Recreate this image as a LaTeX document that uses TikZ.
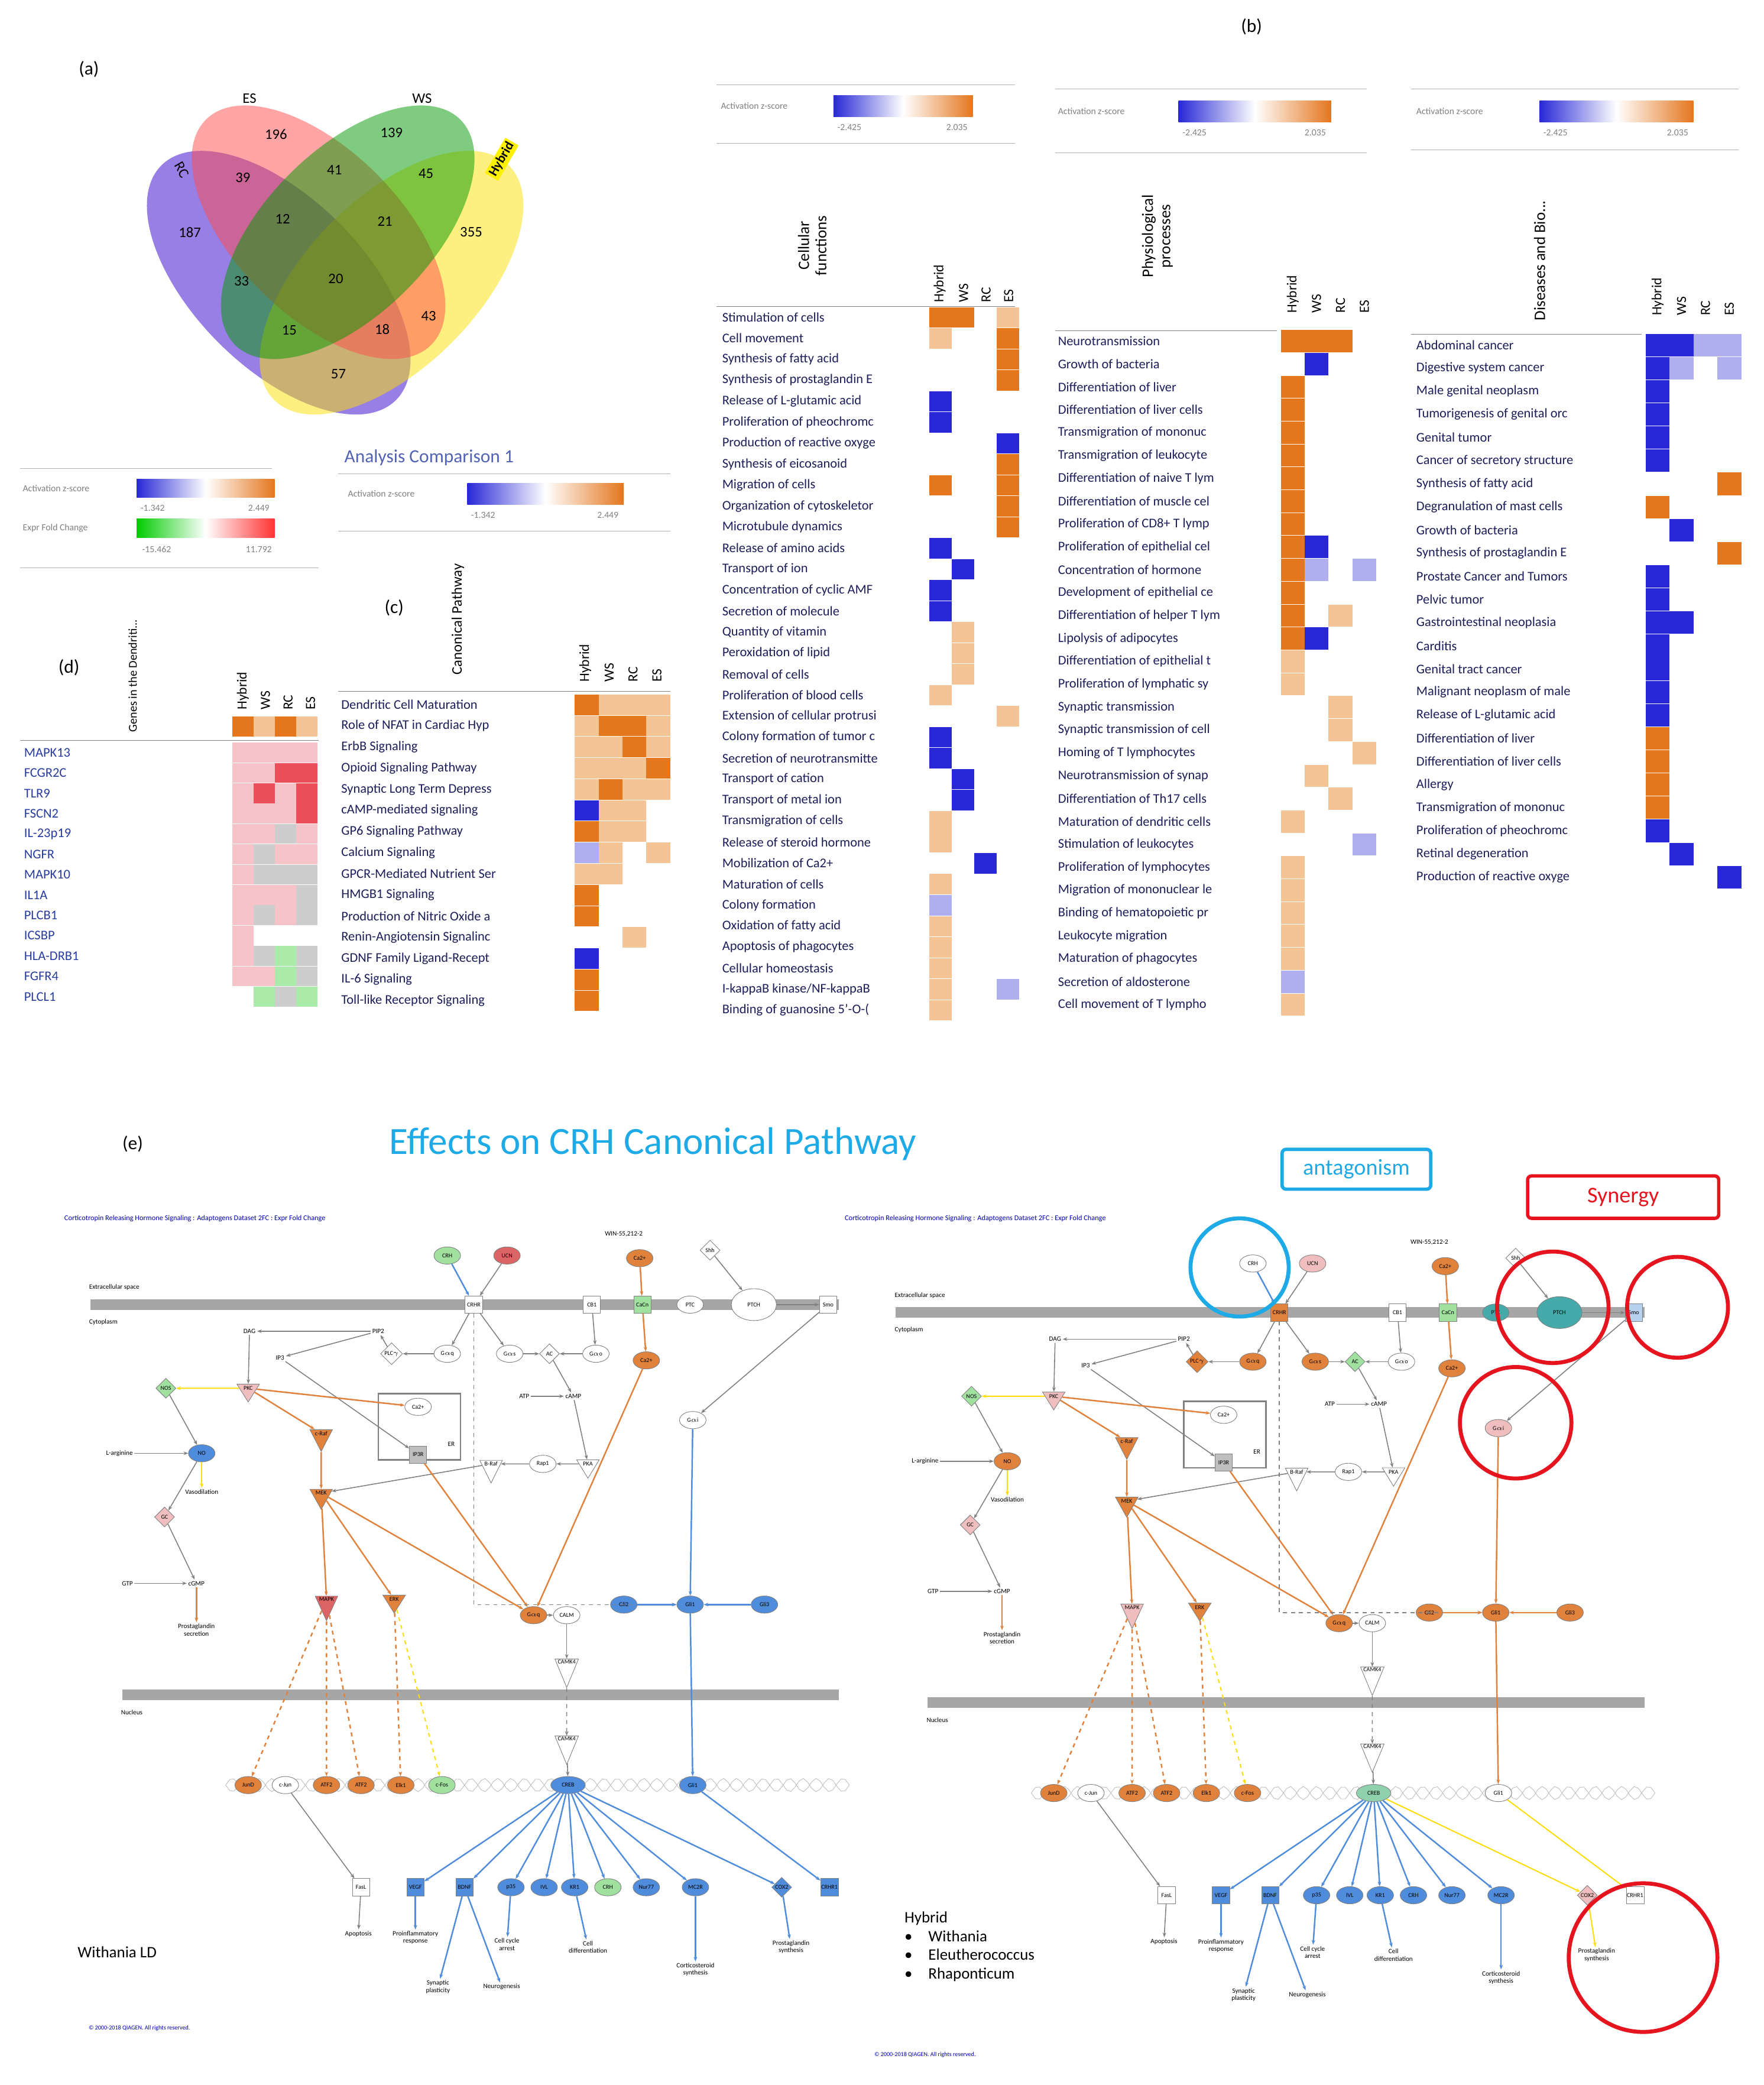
\documentclass[tikz,border=0pt]{standalone}
\usepackage{fontspec}
\setmainfont{Carlito}
\usetikzlibrary{shapes.geometric,arrows.meta}
\definecolor{hmO}{RGB}{228,118,30}
\definecolor{hmo}{RGB}{244,196,150}
\definecolor{hmB}{RGB}{40,40,215}
\definecolor{hmb}{RGB}{175,175,240}
\definecolor{hmn}{RGB}{255,255,255}
\definecolor{hmp}{RGB}{245,195,200}
\definecolor{hmr}{RGB}{235,80,90}
\definecolor{hmg}{RGB}{205,205,205}
\definecolor{hmG}{RGB}{170,235,170}
\definecolor{txt}{RGB}{30,30,90}
\definecolor{gene}{RGB}{40,60,160}
\definecolor{cO}{RGB}{225,130,60}
\definecolor{cB}{RGB}{80,140,220}
\definecolor{cG}{RGB}{160,225,160}
\definecolor{cR}{RGB}{220,100,100}
\definecolor{cP}{RGB}{240,190,190}
\definecolor{cT}{RGB}{70,170,170}
\definecolor{cyanT}{RGB}{30,170,230}
\definecolor{redT}{RGB}{230,20,30}
\tikzset{
 rowt/.style={font=\fontsize{10}{10}\selectfont,text=txt,inner sep=0pt,anchor=west},
 colt/.style={font=\fontsize{10.5}{10.5}\selectfont,rotate=90,anchor=west,inner sep=0pt},
 lg/.style={font=\fontsize{7}{7}\selectfont,text=gray,inner sep=0pt},
 vn/.style={font=\fontsize{11}{11}\selectfont,inner sep=1pt},
 pn/.style={draw=gray,font=\fontsize{4.5}{5}\selectfont,inner sep=0.5pt,fill=white},
 pc/.style={pn,ellipse,minimum width=20pt,minimum height=13pt},
 ps/.style={pn,rectangle,minimum width=13pt,minimum height=13pt},
 pd/.style={pn,diamond,minimum width=15pt,minimum height=15pt},
 pt/.style={pn,isosceles triangle,shape border rotate=-90,minimum width=17pt,minimum height=12pt,isosceles triangle stretches},
 ptx/.style={font=\fontsize{5}{5.5}\selectfont,inner sep=1pt,align=center},
 e/.style={-{Stealth[length=3.5pt]},gray,line width=0.7pt},
 eo/.style={-{Stealth[length=3.5pt]},cO,line width=1.1pt},
 eb/.style={-{Stealth[length=3.5pt]},cB,line width=1.1pt},
 ey/.style={-{Stealth[length=3.5pt]},yellow!80!orange,line width=0.9pt},
 ed/.style={dashed},
}
\newcommand\zlegend[6]{%
 \node[lg,anchor=west] at (#1,#2) {Activation z-score};
 \shade[left color=hmB,right color=hmO,middle color=white] (#3,#2-8) rectangle (#4,#2+8);
 \node[lg] at (#3+12,#2+16) {#5};
 \node[lg] at (#4-12,#2+16) {#6};}
\newcommand\pathway[1]{%
 \fill[gray!70] (68,979) rectangle (632,987);
 \fill[gray!70] (92,1273) rectangle (632,1281);
 \node[ptx,anchor=west] (#1ext) at (66,970) {Extracellular space};
 \node[ptx,anchor=west] (#1cyt) at (66,996) {Cytoplasm};
 \node[ptx,anchor=west] (#1nuc) at (90,1290) {Nucleus};
 \draw[gray!50] plot[domain=170:640,samples=150] (\x,{1345+5*sin(\x*18)});
 \draw[gray!50] plot[domain=170:640,samples=150] (\x,{1345-5*sin(\x*18)});
 \draw[gray,line width=1.2pt] (285,1050) rectangle (347,1100);
 \node[ptx] (#1er) at (340,1088) {ER};
 \node[pc,crhS] (#1crh) at (337,946) {CRH};
 \node[pc,ucnS] (#1ucn) at (382,946) {UCN};
 \node[ps,crhrS] (#1crhr) at (357,983) {CRHR};
 \node[ptx] (#1win) at (470,930) {WIN-55,212-2};
 \node[ps] (#1cb1) at (446,983) {CB1};
 \node[pc,fill=cO] (#1cae) at (482,948) {Ca2+};
 \node[pd] (#1shh) at (535,942) {Shh};
 \node[ps,fill=cG] (#1cacn) at (484,983) {CaCn};
 \node[pc,ptchS] (#1ptc) at (520,983) {PTC};
 \node[pc,ptchS,minimum width=34pt,minimum height=24pt] (#1ptch) at (568,983) {PTCH};
 \node[ps,smoS] (#1smo) at (624,983) {Smo};
 \node[ptx] (#1dag) at (188,1003) {DAG};
 \node[ptx] (#1pip2) at (285,1003) {PIP2};
 \node[ptx] (#1ip3) at (211,1023) {IP3};
 \node[pd,gqS] (#1plc) at (295,1020) {PLC$\gamma$};
 \node[pc,gqS] (#1gaq) at (337,1020) {G$\alpha$q};
 \node[pc,gqS] (#1gas) at (384,1020) {G$\alpha$s};
 \node[pd,acS] (#1ac) at (414,1020) {AC};
 \node[pc] (#1gao) at (449,1020) {G$\alpha$o};
 \node[pc,fill=cO] (#1cai) at (487,1025) {Ca2+};
 \node[pd,fill=cG] (#1nos) at (125,1046) {NOS};
 \node[pt,fill=cP] (#1pkc) at (187,1046) {PKC};
 \node[pt,fill=cO] (#1craf) at (242,1080) {c-Raf};
 \node[pc] (#1caer) at (315,1060) {Ca2+};
 \node[ps,fill=gray!50] (#1ip3r) at (315,1096) {IP3R};
 \node[ptx] (#1atp) at (395,1052) {ATP};
 \node[ptx] (#1camp) at (432,1052) {cAMP};
 \node[pc,giaS] (#1gai) at (522,1070) {G$\alpha$i};
 \node[ptx] (#1larg) at (90,1095) {L-arginine};
 \node[pc,noS] (#1no) at (152,1095) {NO};
 \node[ptx] (#1vaso) at (152,1124) {Vasodilation};
 \node[pd,fill=cP] (#1gc) at (124,1143) {GC};
 \node[pt,fill=cO] (#1mek) at (242,1125) {MEK};
 \node[pt] (#1braf) at (370,1103) {B-Raf};
 \node[pc] (#1rap1) at (409,1103) {Rap1};
 \node[pt] (#1pka) at (443,1103) {PKA};
 \node[ptx] (#1gtp) at (96,1193) {GTP};
 \node[ptx] (#1cgmp) at (148,1193) {cGMP};
 \node[ptx] (#1pg) at (148,1228) {Prostaglandin\\secretion};
 \node[pt,mapkS] (#1mapk) at (246,1205) {MAPK};
 \node[pt,fill=cO] (#1erk) at (297,1205) {ERK};
 \node[pc,fill=cO] (#1gq2) at (402,1217) {G$\alpha$q};
 \node[pc] (#1calm) at (427,1217) {CALM};
 \node[pc,giS] (#1gi2) at (470,1209) {Gli2};
 \node[pc,giS] (#1gi1) at (520,1209) {Gli1};
 \node[pc,giS] (#1gi3) at (576,1209) {Gli3};
 \node[pt] (#1camka) at (427,1252) {CAMK4};
 \node[pt] (#1camkb) at (427,1310) {CAMK4};
 \node[pc,fill=cO] (#1jund) at (187,1345) {JunD};
 \node[pc] (#1cjun) at (215,1345) {c-Jun};
 \node[pc,fill=cO] (#1atf) at (246,1345) {ATF2};
 \node[pc,fill=cO] (#1atfb) at (272,1345) {ATF2};
 \node[pc,fill=cO] (#1elk) at (302,1345) {Elk1};
 \node[pc,cfosS] (#1cfos) at (333,1345) {c-Fos};
 \node[pc,crebS,minimum width=26pt] (#1creb) at (428,1345) {CREB};
 \node[pc,gliS] (#1gli) at (522,1345) {Gli1};
 \node[ps] (#1fasl) at (272,1422) {FasL};
 \node[ps,tgtS] (#1vegf) at (313,1422) {VEGF};
 \node[ps,tgtS] (#1bdnf) at (350,1422) {BDNF};
 \node[pc,tgtS] (#1p35) at (385,1422) {p35};
 \node[pc,tgtS] (#1ivl) at (410,1422) {IVL};
 \node[pc,tgtS] (#1kr1) at (433,1422) {KR1};
 \node[pc,crh2S] (#1crh2) at (458,1422) {CRH};
 \node[pc,tgtS] (#1nur) at (487,1422) {Nur77};
 \node[pc,tgtS] (#1mc2r) at (524,1422) {MC2R};
 \node[pd,cox2S] (#1cox2) at (589,1422) {COX2};
 \node[ps,crhr1S] (#1crhr1) at (625,1422) {CRHR1};
 \node[ptx] (#1apo) at (270,1457) {Apoptosis};
 \node[ptx] (#1proi) at (313,1460) {Proinflammatory\\response};
 \node[ptx] (#1syn) at (330,1497) {Synaptic\\plasticity};
 \node[ptx] (#1neu) at (378,1497) {Neurogenesis};
 \node[ptx] (#1cca) at (382,1465) {Cell cycle\\arrest};
 \node[ptx] (#1cdiff) at (443,1467) {Cell\\differentiation};
 \node[ptx] (#1cort) at (524,1484) {Corticosteroid\\synthesis};
 \node[ptx] (#1pgs) at (596,1467) {Prostaglandin\\synthesis};
 \draw[eb] (#1crh) -- (#1crhr);
 \draw[e] (#1ucn) -- (#1crhr);
 \draw[e] (#1crhr) -- (#1gaq);
 \draw[e] (#1crhr) -- (#1gas);
 \draw[e] (#1gaq) -- (#1plc);
 \draw[e] (#1plc) -- (#1pip2);
 \draw[e] (#1pip2) -- (#1dag);
 \draw[e] (#1pip2) -- (#1ip3);
 \draw[e] (#1dag) -- (#1pkc);
 \draw[e] (#1gas) -- (#1ac);
 \draw[e] (#1gao) -- (#1ac);
 \draw[e] (#1cb1) -- (#1gao);
 \draw[e] (#1ac) -- (#1camp);
 \draw[e] (#1atp) -- (#1camp);
 \draw[e] (#1camp) -- (#1pka);
 \draw[e] (#1pka) -- (#1rap1);
 \draw[e] (#1rap1) -- (#1braf);
 \draw[e] (#1braf) -- (#1mek);
 \draw[ey] (#1pkc) -- (#1nos);
 \draw[e] (#1nos) -- (#1no);
 \draw[e] (#1larg) -- (#1no);
 \draw[ey] (#1no) -- (#1vaso);
 \draw[e] (#1no) -- (#1gc);
 \draw[e] (#1gc) -- (#1cgmp);
 \draw[e] (#1gtp) -- (#1cgmp);
 \draw[eo] (#1cgmp) -- (#1pg);
 \draw[eo] (#1pkc) -- (#1craf);
 \draw[eo] (#1craf) -- (#1mek);
 \draw[eo] (#1mek) -- (#1mapk);
 \draw[eo] (#1mek) -- (#1erk);
 \draw[eo] (#1mek) -- (#1gq2);
 \draw[eo] (#1ip3r) -- (#1gq2);
 \draw[e] (#1ip3) -- (#1ip3r);
 \draw[eo] (#1cae) -- (#1cacn);
 \draw[eo] (#1cacn) -- (#1cai);
 \draw[eo] (#1cai) -- (#1gq2);
 \draw[eo] (#1pkc) -- (#1caer);
 \draw[eo,ed] (#1mapk) -- (#1jund);
 \draw[eo,ed] (#1mapk) -- (#1atf);
 \draw[eo,ed] (#1mapk) -- (#1atfb);
 \draw[eo,ed] (#1erk) -- (#1elk);
 \draw[ey,ed] (#1erk) -- (#1cfos);
 \draw[e] (#1gq2) -- (#1calm);
 \draw[e] (#1calm) -- (#1camka);
 \draw[e,ed] (#1camka) -- (#1camkb);
 \draw[e] (#1camkb) -- (#1creb);
 \draw[e] (#1shh) -- (#1ptch);
 \draw[e] (#1ptch) -- (#1smo);
 \draw[e] (#1smo) -- (#1gai);
 \draw[e,ed] (#1crhr) |- (#1gi1);
 \draw[giE] (#1gai) -- (#1gi1);
 \draw[giE] (#1gi2) -- (#1gi1);
 \draw[giE] (#1gi3) -- (#1gi1);
 \draw[giE] (#1gi1) -- (#1gli);
 \draw[e] (#1cjun) -- (#1fasl);
 \draw[e] (#1fasl) -- (#1apo);
 \draw[eb] (#1creb) -- (#1vegf);
 \draw[eb] (#1creb) -- (#1bdnf);
 \draw[eb] (#1creb) -- (#1p35);
 \draw[eb] (#1creb) -- (#1ivl);
 \draw[eb] (#1creb) -- (#1kr1);
 \draw[eb] (#1creb) -- (#1crh2);
 \draw[eb] (#1creb) -- (#1nur);
 \draw[eb] (#1creb) -- (#1mc2r);
 \draw[cxE] (#1creb) -- (#1cox2);
 \draw[cxE] (#1gli) -- (#1crhr1);
 \draw[eb] (#1vegf) -- (#1proi);
 \draw[eb] (#1bdnf) -- (#1syn);
 \draw[eb] (#1bdnf) -- (#1neu);
 \draw[eb] (#1p35) -- (#1cca);
 \draw[eb] (#1kr1) -- (#1cdiff);
 \draw[eb] (#1mc2r) -- (#1cort);
 \draw[cxE] (#1cox2) -- (#1pgs);
}
\begin{document}
\begin{tikzpicture}[x=1pt,y=-1pt]
\useasboundingbox[fill=white] (0,0) rectangle (1329,1571);
% ---------- (a) Venn
\node[font=\fontsize{14}{14}\selectfont] (la) at (67,52) {(a)};
\begin{scope}[fill opacity=0.5]
\fill[blue!60!violet] (210,213) ellipse[x radius=125,y radius=64,rotate=-45];
\fill[yellow!85!orange] (295,213) ellipse[x radius=125,y radius=64,rotate=45];
\fill[red!70] (240,175) ellipse[x radius=120,y radius=62,rotate=-45];
\fill[green!60!black] (262,175) ellipse[x radius=120,y radius=62,rotate=45];
\end{scope}
\node[vn,rotate=-60] (vrc) at (137,128) {RC};
\node[vn] (ves) at (188,74) {ES};
\node[vn] (vws) at (318,74) {WS};
\node[fill=yellow,rotate=60,inner sep=1.5pt,font=\bfseries\fontsize{10}{10}\selectfont] (vhy) at (378,120) {Hybrid};
\foreach \n/\x/\y [count=\i] in {196/208/101,139/295/100,39/183/134,41/252/128,45/321/131,12/213/165,21/290/167,187/143/175,355/355/175,33/182/212,20/253/210,43/323/238,15/218/249,18/288/248,57/255/282}
 \node[vn] (vnum\i) at (\x,\y) {\n};
% ---------- (b)
\node[font=\fontsize{14}{14}\selectfont] (lb) at (943,20) {(b)};
\foreach \xa/\xb/\ya/\yb in {540/765/64/108,795/1030/67/115,1063/1310/67/113}{
 \draw[gray!60] (\xa,\ya) -- (\xb,\ya); \draw[gray!60] (\xa,\yb) -- (\xb,\yb);}
\zlegend{543}{80}{628}{733}{-2.425}{2.035}
\zlegend{797}{84}{888}{1003}{-2.425}{2.035}
\zlegend{1067}{84}{1160}{1276}{-2.425}{2.035}
\node[rotate=90,align=center,font=\fontsize{12}{13}\selectfont] (t1) at (612,185) {Cellular\\functions};
\node[rotate=90,align=center,font=\fontsize{12}{13}\selectfont] (t2) at (872,178) {Physiological\\processes};
\node[rotate=90,anchor=west,font=\fontsize{12}{13}\selectfont] (t3) at (1160,245) {Diseases and Bio...};
\foreach \x/\n in {708/Hybrid,726/WS,743/RC,760/ES}\node[colt] (hb1\n) at (\x,228) {\n};
\foreach \x/\n in {974/Hybrid,992/WS,1010/RC,1028/ES}\node[colt] (hb2\n) at (\x,236) {\n};
\foreach \x/\n in {1249/Hybrid,1267/WS,1285/RC,1303/ES}\node[colt] (hb3\n) at (\x,238) {\n};
\draw[gray] (540,231) -- (765,231);
\draw[gray] (795,249) -- (1030,249);
\draw[gray] (1063,252) -- (1310,252);
\foreach \t/\a/\b/\c/\d [count=\i from 0] in {
Stimulation of cells/O/O/n/o, Cell movement/o/n/n/O, Synthesis of fatty acid/n/n/n/O, Synthesis of prostaglandin E/n/n/n/O, Release of L-glutamic acid/B/n/n/n, Proliferation of pheochromc/B/n/n/n, Production of reactive oxyge/n/n/n/B, Synthesis of eicosanoid/n/n/n/O, Migration of cells/O/n/n/O, Organization of cytoskeletor/n/n/n/O, Microtubule dynamics/n/n/n/O, Release of amino acids/B/n/n/n, Transport of ion/n/B/n/n, Concentration of cyclic AMF/B/n/n/n, Secretion of molecule/B/n/n/n, Quantity of vitamin/n/o/n/n, Peroxidation of lipid/n/o/n/n, Removal of cells/n/o/n/n, Proliferation of blood cells/o/n/n/n, Extension of cellular protrusi/n/n/n/o, Colony formation of tumor c/B/n/n/n, Secretion of neurotransmitte/B/n/n/n, Transport of cation/n/B/n/n, Transport of metal ion/n/B/n/n, Transmigration of cells/o/n/n/n, Release of steroid hormone/o/n/n/n, Mobilization of Ca2+/n/n/B/n, Maturation of cells/o/n/n/n, Colony formation/b/n/n/n, Oxidation of fatty acid/o/n/n/n, Apoptosis of phagocytes/o/n/n/n, Cellular homeostasis/o/n/n/n, {I-kappaB kinase/NF-kappaB}/o/n/n/b, Binding of guanosine 5'-O-(/o/n/n/n}{
 \pgfmathsetmacro\yy{239+\i*15.82}
 \fill[hm\a] (700,\yy-7.6) rectangle ++(17,15.4);
 \fill[hm\b] (717,\yy-7.6) rectangle ++(17,15.4);
 \fill[hm\c] (734,\yy-7.6) rectangle ++(17,15.4);
 \fill[hm\d] (751,\yy-7.6) rectangle ++(17,15.4);
 \fill[white] (697,\yy-7.6) rectangle (700,\yy+8);
 \node[rowt] (ba\i) at (544,\yy) {\t};
}
\foreach \t/\a/\b/\c/\d [count=\i from 0] in {
Neurotransmission/O/O/O/n, Growth of bacteria/n/B/n/n, Differentiation of liver/O/n/n/n, Differentiation of liver cells/O/n/n/n, Transmigration of mononuc/O/n/n/n, Transmigration of leukocyte/O/n/n/n, Differentiation of naive T lym/O/n/n/n, Differentiation of muscle cel/O/n/n/n, Proliferation of CD8+ T lymp/O/n/n/n, Proliferation of epithelial cel/O/B/n/n, Concentration of hormone/O/b/n/b, Development of epithelial ce/O/n/n/n, Differentiation of helper T lym/O/n/o/n, Lipolysis of adipocytes/O/B/n/n, Differentiation of epithelial t/o/n/n/n, Proliferation of lymphatic sy/o/n/n/n, Synaptic transmission/n/n/o/n, Synaptic transmission of cell/n/n/o/n, Homing of T lymphocytes/n/n/n/o, Neurotransmission of synap/n/o/n/n, Differentiation of Th17 cells/n/n/o/n, Maturation of dendritic cells/o/n/n/n, Stimulation of leukocytes/n/n/n/b, Proliferation of lymphocytes/o/n/n/n, Migration of mononuclear le/o/n/n/n, Binding of hematopoietic pr/o/n/n/n, Leukocyte migration/o/n/n/n, Maturation of phagocytes/o/n/n/n, Secretion of aldosterone/b/n/n/n, Cell movement of T lympho/o/n/n/n}{
 \pgfmathsetmacro\yy{257+\i*17.24}
 \fill[hm\a] (965,\yy-8.4) rectangle ++(18,16.8);
 \fill[hm\b] (983,\yy-8.4) rectangle ++(18,16.8);
 \fill[hm\c] (1001,\yy-8.4) rectangle ++(18,16.8);
 \fill[hm\d] (1019,\yy-8.4) rectangle ++(18,16.8);
 \fill[white] (962,\yy-8.4) rectangle (965,\yy+8.6);
 \node[rowt] (bb\i) at (797,\yy) {\t};
}
\foreach \t/\a/\b/\c/\d [count=\i from 0] in {
Abdominal cancer/B/B/b/b, Digestive system cancer/B/b/n/b, Male genital neoplasm/B/n/n/n, Tumorigenesis of genital orc/B/n/n/n, Genital tumor/B/n/n/n, Cancer of secretory structure/B/n/n/n, Synthesis of fatty acid/n/n/n/O, Degranulation of mast cells/O/n/n/n, Growth of bacteria/n/B/n/n, Synthesis of prostaglandin E/n/n/n/O, Prostate Cancer and Tumors/B/n/n/n, Pelvic tumor/B/n/n/n, Gastrointestinal neoplasia/B/B/n/n, Carditis/B/n/n/n, Genital tract cancer/B/n/n/n, Malignant neoplasm of male/B/n/n/n, Release of L-glutamic acid/B/n/n/n, Differentiation of liver/O/n/n/n, Differentiation of liver cells/O/n/n/n, Allergy/O/n/n/n, Transmigration of mononuc/O/n/n/n, Proliferation of pheochromc/B/n/n/n, Retinal degeneration/n/B/n/n, Production of reactive oxyge/n/n/n/B}{
 \pgfmathsetmacro\yy{260+\i*17.43}
 \fill[hm\a] (1240,\yy-8.5) rectangle ++(18,17);
 \fill[hm\b] (1258,\yy-8.5) rectangle ++(18,17);
 \fill[hm\c] (1276,\yy-8.5) rectangle ++(18,17);
 \fill[hm\d] (1294,\yy-8.5) rectangle ++(18,17);
 \fill[white] (1237,\yy-8.5) rectangle (1240,\yy+8.5);
 \node[rowt] (bc\i) at (1067,\yy) {\t};
}
% ---------- (c)
\node[text=gene!80,font=\fontsize{14}{14}\selectfont,anchor=west] (acomp) at (256,345) {Analysis Comparison 1};
\draw[gray!60] (255,357) -- (505,357);
\draw[gray!60] (255,400) -- (505,400);
\zlegend{262}{372}{352}{470}{-1.342}{2.449}
\node[rotate=90,anchor=west,font=\fontsize{11}{11}\selectfont] (tcp) at (345,512) {Canonical Pathway};
\node[font=\fontsize{14}{14}\selectfont] (lc) at (297,458) {(c)};
\foreach \x/\n in {441/Hybrid,459/WS,477/RC,495/ES}\node[colt] (hc\n) at (\x,514) {\n};
\draw[gray] (255,521) -- (505,521);
\foreach \t/\a/\b/\c/\d [count=\i from 0] in {
Dendritic Cell Maturation/O/o/o/o, Role of NFAT in Cardiac Hyp/o/O/O/o, ErbB Signaling/o/o/O/o, Opioid Signaling Pathway/o/o/o/O, Synaptic Long Term Depress/o/O/o/o, cAMP-mediated signaling/B/o/o/n, GP6 Signaling Pathway/O/o/o/n, Calcium Signaling/b/o/n/o, GPCR-Mediated Nutrient Ser/o/o/n/n, HMGB1 Signaling/O/n/n/n, Production of Nitric Oxide a/O/n/n/n, Renin-Angiotensin Signalinc/n/n/o/n, GDNF Family Ligand-Recept/B/n/n/n, IL-6 Signaling/O/n/n/n, Toll-like Receptor Signaling/O/n/n/n}{
 \pgfmathsetmacro\yy{531+\i*15.93}
 \fill[hm\a] (433,\yy-7.7) rectangle ++(18,15.5);
 \fill[hm\b] (451,\yy-7.7) rectangle ++(18,15.5);
 \fill[hm\c] (469,\yy-7.7) rectangle ++(18,15.5);
 \fill[hm\d] (487,\yy-7.7) rectangle ++(18,15.5);
 \fill[white] (430,\yy-7.7) rectangle (433,\yy+8);
 \node[rowt,text=txt] (cc\i) at (257,\yy) {\t};
}
% ---------- (d)
\draw[gray!60] (15,428) -- (240,428);
\draw[gray!60] (15,353) -- (205,353);
\node[lg,anchor=west] (dz) at (17,368) {Activation z-score};
\shade[left color=hmB,right color=hmO,middle color=white] (103,361) rectangle (207,375);
\node[lg] (dz1) at (115,383) {-1.342};
\node[lg] (dz2) at (195,383) {2.449};
\node[lg,anchor=west] (de) at (17,398) {Expr Fold Change};
\shade[left color=green!80!black,right color=red!80,middle color=white] (103,391) rectangle (207,405);
\node[lg] (de1) at (118,414) {-15.462};
\node[lg] (de2) at (195,414) {11.792};
\node[font=\fontsize{14}{14}\selectfont] (ld) at (52,503) {(d)};
\node[rotate=90,anchor=west,font=\fontsize{9}{9}\selectfont] (tgd) at (100,555) {Genes in the Dendriti...};
\foreach \x/\n in {183/Hybrid,200/WS,217/RC,234/ES}\node[colt] (hd\n) at (\x,535) {\n};
\fill[hmO] (175,540) rectangle ++(16,15); \fill[hmo] (191,540) rectangle ++(16,15);
\fill[hmO] (207,540) rectangle ++(16,15); \fill[hmo] (223,540) rectangle ++(16,15);
\draw[gray] (15,558) -- (240,558);
\foreach \t/\a/\b/\c/\d [count=\i from 0] in {
MAPK13/p/p/p/p, FCGR2C/p/p/r/r, TLR9/p/r/p/r, FSCN2/p/p/p/r, IL-23p19/p/p/g/p, NGFR/p/g/p/p, MAPK10/p/g/g/g, IL1A/p/p/p/g, PLCB1/p/g/p/g, ICSBP/p/n/n/n, HLA-DRB1/p/g/G/g, FGFR4/p/p/G/g, PLCL1/n/G/g/G}{
 \pgfmathsetmacro\yy{567+\i*15.33}
 \fill[hm\a] (175,\yy-7.5) rectangle ++(16,15);
 \fill[hm\b] (191,\yy-7.5) rectangle ++(16,15);
 \fill[hm\c] (207,\yy-7.5) rectangle ++(16,15);
 \fill[hm\d] (223,\yy-7.5) rectangle ++(16,15);
 \node[rowt,text=gene] (dg\i) at (18,\yy) {\t};
}
% ---------- (e)
\node[font=\fontsize{14}{14}\selectfont] (le) at (100,862) {(e)};
\node[text=cyanT,font=\fontsize{29}{30}\selectfont] (title) at (492,862) {Effects on CRH Canonical Pathway};
\node[draw=cyanT,line width=2.5pt,rounded corners=3pt,text=cyanT,font=\fontsize{17}{17}\selectfont,minimum width=112pt,minimum height=30pt] (anta) at (1022,881) {antagonism};
\node[draw=redT,line width=2.5pt,rounded corners=3pt,text=redT,font=\fontsize{17}{17}\selectfont,minimum width=144pt,minimum height=32pt] (syne) at (1223,902) {Synergy};
\node[text=blue!70!black,font=\fontsize{5.5}{5.5}\selectfont,anchor=west] (hl) at (45,918) {Corticotropin Releasing Hormone Signaling : Adaptogens Dataset 2FC : Expr Fold Change};
\node[text=blue!70!black,font=\fontsize{5.5}{5.5}\selectfont,anchor=west] (hr) at (633,918) {Corticotropin Releasing Hormone Signaling : Adaptogens Dataset 2FC : Expr Fold Change};
\begin{scope}[crhS/.style={fill=cG},ucnS/.style={fill=cR},crhrS/.style={fill=white},crebS/.style={fill=cB},gliS/.style={fill=cB},giS/.style={fill=cB},cfosS/.style={fill=cG},tgtS/.style={fill=cB},cox2S/.style={fill=cB},crhr1S/.style={fill=cB},crh2S/.style={fill=cG},giE/.style={eb},cxE/.style={eb},ptchS/.style={fill=white},smoS/.style={fill=white},giaS/.style={fill=white},mapkS/.style={fill=cR},gqS/.style={fill=white},acS/.style={fill=white},noS/.style={fill=cB}]
\pathway{L}
\end{scope}
\begin{scope}[shift={(607,6)},crhS/.style={fill=white},ucnS/.style={fill=cP},crhrS/.style={fill=cO},crebS/.style={fill=cG!80!cB},gliS/.style={fill=white},giS/.style={fill=cO},cfosS/.style={fill=cO},tgtS/.style={fill=cB},cox2S/.style={fill=cP},crhr1S/.style={fill=white},crh2S/.style={fill=cB},giE/.style={eo},cxE/.style={ey},ptchS/.style={fill=cT},smoS/.style={fill=cB!40},giaS/.style={fill=cP},mapkS/.style={fill=cP},gqS/.style={fill=cO},acS/.style={fill=cG},noS/.style={fill=cO}]
\pathway{R}
\end{scope}
\node[font=\fontsize{12}{12}\selectfont,anchor=west] (wld) at (55,1471) {Withania LD};
\node[font=\fontsize{12}{14}\selectfont,anchor=north west,align=left] (hyb) at (678,1437) {Hybrid\\ \textbullet\quad Withania\\ \textbullet\quad Eleutherococcus\\ \textbullet\quad Rhaponticum};
\node[font=\fontsize{4.5}{4.5}\selectfont,text=blue!70!black] (cpl) at (105,1528) {\copyright\ 2000-2018 QIAGEN. All rights reserved.};
\node[font=\fontsize{4.5}{4.5}\selectfont,text=blue!70!black] (cpr) at (697,1548) {\copyright\ 2000-2018 QIAGEN. All rights reserved.};
\draw[cyanT,line width=3pt] (934,955) circle (37);
\foreach \x/\y/\r [count=\i] in {1170/985/42,1264/985/38,1142/1072/42,1238/1475/56}
 \draw[redT,line width=3pt] (\x,\y) coordinate (rc\i) circle (\r);
\end{tikzpicture}
\end{document}
